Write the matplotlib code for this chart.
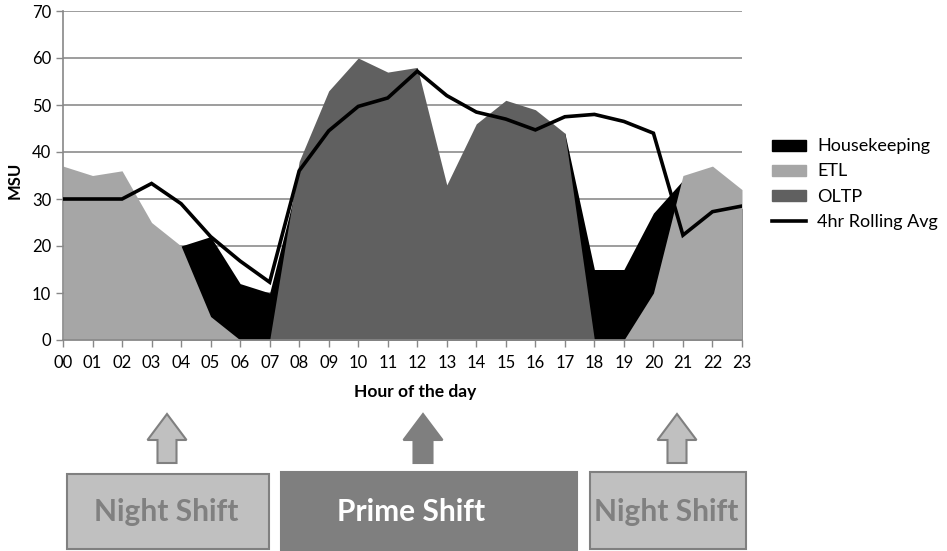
import matplotlib
matplotlib.use("Agg")
import matplotlib.pyplot as plt
from matplotlib.patches import Patch, Rectangle, Polygon
from matplotlib.lines import Line2D

plt.rcParams['font.family'] = ['Lato', 'DejaVu Sans']

# data (MSU per hour)
hours = list(range(24))
hour_labels = ["%02d" % h for h in hours]
housekeeping = [0, 0, 0, 0, 20, 22, 12, 10, 35, 40, 42, 44, 45, 30, 40, 42, 42, 44, 15, 15, 27, 34, 30, 28]
etl = [37, 35, 36, 25, 20, 5, 0, 0, 0, 0, 0, 0, 0, 0, 0, 0, 0, 0, 0, 0, 10, 35, 37, 32]
oltp = [0, 0, 0, 0, 0, 0, 0, 0, 38, 53, 60, 57, 58, 33, 46, 51, 49, 44, 0, 0, 0, 0, 0, 0]
rolling = [30, 30, 30, 33.3, 29, 22, 16.8, 12.3, 36, 44.5, 49.7, 51.5, 57.2, 52, 48.5, 47, 44.7, 47.5, 48, 46.5, 44, 22.3, 27.3, 28.5]

series_names = ["Housekeeping", "ETL", "OLTP", "4hr Rolling Avg"]
colors = ["#000000", "#a6a6a6", "#606060"]

shifts = ["Night Shift", "Prime Shift", "Night Shift"]

W, H = 947, 551
fig = plt.figure(figsize=(W / 100, H / 100), dpi=100)


def fx(x):
    return x / W


def fy(y):
    return 1 - y / H


ax = fig.add_axes([fx(63), fy(340), fx(742) - fx(63), fy(11) - fy(340)])

for vals, c in zip([housekeeping, etl, oltp], colors):
    ax.fill_between(hours, 0, vals, color=c, lw=0, zorder=2)
ax.plot(hours, rolling, color="black", lw=2.6, zorder=3, solid_joinstyle="miter")

ax.set_xlim(0, 23)
ax.set_ylim(0, 70)
ax.set_xticks(hours)
ax.set_xticklabels(hour_labels)
ax.set_yticks(range(0, 71, 10))
ax.tick_params(axis="both", labelsize=12, colors="#888888", labelcolor="black", length=5, width=1)
ax.tick_params(axis="x", pad=6)
ax.grid(axis="y", color="#8c8c8c", lw=1.2, zorder=0)
ax.set_axisbelow(True)
for s in ["top", "right"]:
    ax.spines[s].set_visible(False)
for s in ["left", "bottom"]:
    ax.spines[s].set_color("#888888")
    ax.spines[s].set_linewidth(1.2)

fig.text(fx(15), fy(180), "MSU", rotation=90, fontsize=12, fontweight="bold", ha="center", va="center")
fig.text(fx(415), fy(392), "Hour of the day", fontsize=12.5, fontweight="bold", ha="center", va="center")

handles = [Patch(color=c) for c in colors] + [Line2D([], [], color="black", lw=2.6)]
fig.legend(handles, series_names, loc="center left", bbox_to_anchor=(fx(772), fy(184)),
           frameon=False, fontsize=13, handlelength=1.9, handleheight=0.55,
           handletextpad=0.6, labelspacing=0.5, borderpad=0, borderaxespad=0)

# shift boxes under the chart
boxes = [(67, 474, 269, 549), (281, 472, 577, 550), (590, 472, 746, 549)]
box_fill = ["#c0c0c0", "#7f7f7f", "#c0c0c0"]
box_edge = ["#808080", "#7f7f7f", "#808080"]
text_col = ["#808080", "white", "#808080"]
text_x = [166.5, 411, 666]
arrow_x = [167, 423, 677]

for (x0, y0, x1, y1), fc, ec, tc, tx, name in zip(boxes, box_fill, box_edge, text_col, text_x, shifts):
    fig.add_artist(Rectangle((fx(x0), fy(y1)), fx(x1) - fx(x0), fy(y0) - fy(y1),
                             transform=fig.transFigure, facecolor=fc, edgecolor=ec, lw=1.5))
    fig.text(fx(tx), fy(521), name, color=tc, fontsize=21.5, fontweight="bold", ha="center", va="baseline")

for cx, fc in zip(arrow_x, box_fill):
    tip, base, bottom, hw, sw = 414, 440, 463, 19.5, 9.5
    pts = [(cx, tip), (cx + hw, base), (cx + sw, base), (cx + sw, bottom),
           (cx - sw, bottom), (cx - sw, base), (cx - hw, base)]
    ec = "#808080" if fc != "#7f7f7f" else fc
    fig.add_artist(Polygon([(fx(a), fy(b)) for a, b in pts], closed=True,
                           transform=fig.transFigure, facecolor=fc, edgecolor=ec, lw=1.5))

fig.savefig("out.png", dpi=100)
